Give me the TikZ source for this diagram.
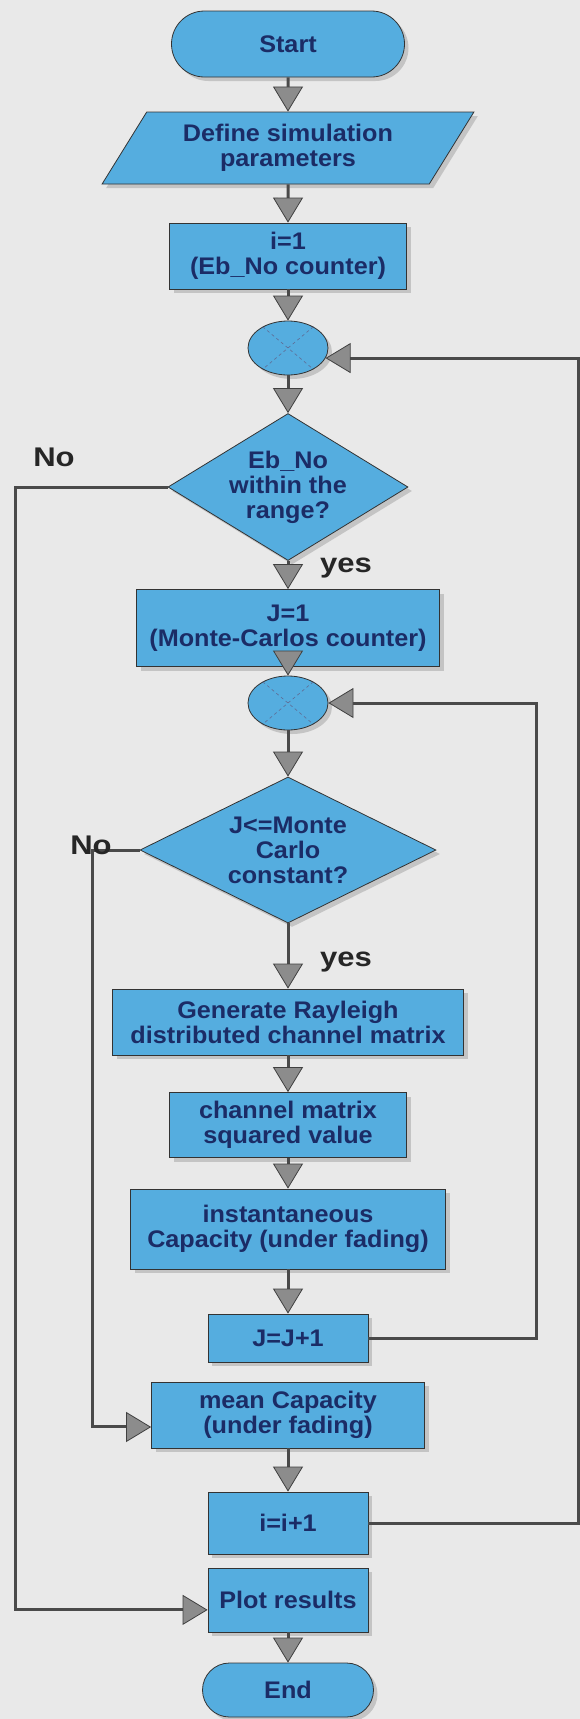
\documentclass[tikz,border=0pt]{standalone}
\usepackage{fontspec}
\setmainfont{Liberation Sans}[FakeStretch=1.05]
\newfontfamily\lblfont{Liberation Sans}[FakeStretch=1.15]
\usetikzlibrary{shapes.geometric,shapes.misc,arrows.meta,shadows}
\definecolor{paper}{HTML}{E9E9E9}
\definecolor{boxblue}{HTML}{55ADDF}
\definecolor{navy}{HTML}{1B2C66}
\definecolor{arrowgray}{HTML}{8C8C8C}
\definecolor{wire}{HTML}{4A4A4A}
\begin{document}
\begin{tikzpicture}[x=1pt,y=-1pt,
  base/.style={draw=black!80, line width=0.8pt, fill=boxblue, text=navy,
    font=\bfseries\fontsize{24}{25}\selectfont, align=center, inner sep=0pt,
    drop shadow={shadow xshift=4pt,shadow yshift=-4pt,opacity=0.35}},
  proc/.style 2 args={base, rectangle, minimum width=#1, minimum height=#2},
  term/.style 2 args={base, rounded rectangle, minimum width=#1, minimum height=#2},
  joint/.style={base, ellipse, minimum width=80pt, minimum height=54pt},
  xline/.style={draw=navy!70, line width=0.6pt, dashed},
  arr/.style={draw=wire, line width=3pt,
    -{Triangle[width=30pt,length=25pt,line width=0.8pt,color=black!75,fill=arrowgray]}},
  lbl/.style={text=black!85, font=\lblfont\bfseries\fontsize{27}{27}\selectfont, inner sep=0pt}
]
% page
\fill[paper] (0,0) rectangle (580,1719);
\useasboundingbox (0,0) rectangle (580,1719);

% guide columns for the loop-back lines
\coordinate (colL) at (15,0);
\coordinate (colLi) at (92,0);
\coordinate (colRi) at (536,0);
\coordinate (colR) at (578,0);

% main column
\node[term={233pt}{66pt}] (start) at (288,44) {Start};
\node[base, trapezium, trapezium left angle=55, trapezium right angle=125,
      trapezium stretches=true, minimum width=372pt, minimum height=72pt]
      (define) at (288,148) {Define simulation\\parameters};
\node[proc={237pt}{66pt}] (ione) at (288,256) {i=1\\(Eb\_No counter)};
\node[joint] (cone) at (288,348) {};
\node[base, diamond, aspect=1.63, minimum width=240pt, minimum height=147pt]
      (done) at (288,487) {Eb\_No\\within the\\range?};
\node[proc={303pt}{77pt}] (jone) at (288,628) {J=1\\(Monte-Carlos counter)};
\node[joint] (ctwo) at (288,703) {};
\node[base, diamond, aspect=2.03, minimum width=296pt, minimum height=146pt]
      (dtwo) at (288,850) {J<=Monte\\Carlo\\constant?};
\node[proc={351pt}{66pt}] (gen) at (288,1022) {Generate Rayleigh\\distributed channel matrix};
\node[proc={237pt}{65pt}] (chan) at (288,1125) {channel matrix\\squared value};
\node[proc={315pt}{80pt}] (inst) at (288,1229) {instantaneous\\Capacity (under fading)};
\node[proc={160pt}{48pt}] (jinc) at (288,1338) {J=J+1};
\node[proc={273pt}{66pt}] (mean) at (288,1415) {mean Capacity\\(under fading)};
\node[proc={160pt}{62pt}] (iinc) at (288,1523) {i=i+1};
\node[proc={160pt}{64pt}] (plot) at (288,1600) {Plot results};
\node[term={171pt}{54pt}] (stop) at (288,1690) {End};

% dashed crosses of the junction points
\draw[xline] (cone.140) -- (cone.-40) (cone.40) -- (cone.-140);
\draw[xline] (ctwo.140) -- (ctwo.-40) (ctwo.40) -- (ctwo.-140);

% straight flow
\draw[arr] (start) -- (define);
\draw[arr] (define) -- (ione);
\draw[arr] (ione) -- (cone);
\draw[arr] (cone) -- (done);
\draw[arr] (done) -- (jone);
\draw[arr] (jone) -- (ctwo);
\draw[arr] (ctwo) -- (dtwo);
\draw[arr] (dtwo) -- (gen);
\draw[arr] (gen) -- (chan);
\draw[arr] (chan) -- (inst);
\draw[arr] (inst) -- (jinc);
\draw[arr] (mean) -- (iinc);
\draw[arr] (plot) -- (stop);

% loops and exits
\draw[arr] (iinc.east) -- (iinc.east -| colR) |- (cone.-15);
\draw[arr] (jinc.east) -- (jinc.east -| colRi) |- (ctwo.east);
\draw[arr] (done.west) -- (done.west -| colL) |- (plot.187);
\draw[arr] (dtwo.west) -- (dtwo.west -| colLi) |- (mean.185);

% branch labels
\node[lbl] (noone) at (54,457) {No};
\node[lbl] (yesone) at (346,568) {yes};
\node[lbl] (notwo) at (91,845) {No};
\node[lbl] (yestwo) at (346,962) {yes};
\end{tikzpicture}
\end{document}
